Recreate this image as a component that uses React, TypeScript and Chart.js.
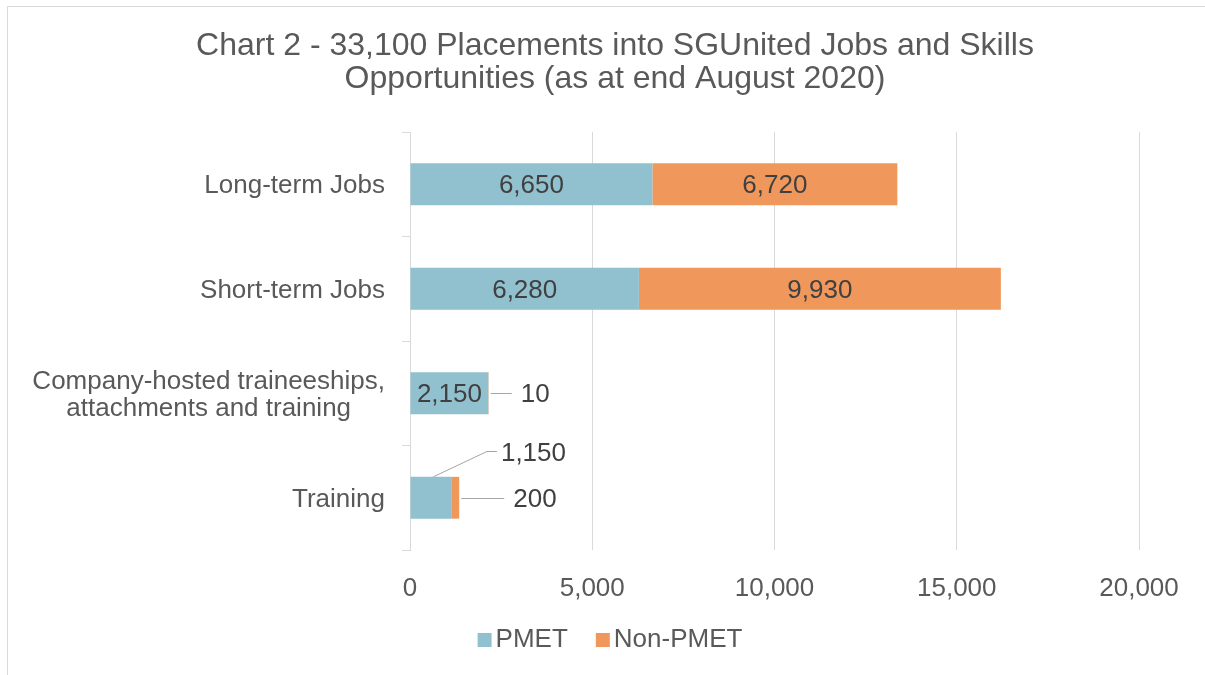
import React, { useEffect, useRef } from "react";
import { Chart, registerables } from "chart.js";

Chart.register(...registerables);

const categories: string[][] = [
  ["Long-term Jobs"],
  ["Short-term Jobs"],
  ["Company-hosted traineeships,", "attachments and training"],
  ["Training"],
];
const pmetValues = [6650, 6280, 2150, 1150];
const nonPmetValues = [6720, 9930, 10, 200];
const xTickValues = [0, 5000, 10000, 15000, 20000];
const seriesNames = ["PMET", "Non-PMET"];
const titleLines = [
  "Chart 2 - 33,100 Placements into SGUnited Jobs and Skills",
  "Opportunities (as at end August 2020)",
];

const FONT = "'Liberation Sans', Arial, sans-serif";
const TEXT_GREY = "#595959";
const LABEL_DARK = "#404040";
const GRID = "#d9d9d9";
const LEADER = "#a6a6a6";
const COLORS = ["#91c0ce", "#f0975b"];
const FS = 26;
const TY = 2; // small vertical text nudge

const fmt = (v: number) => v.toLocaleString("en-US");

const drawPlugin = {
  id: "excelLook",
  beforeDraw(chart: any) {
    const { ctx, width, height } = chart;
    ctx.save();
    ctx.fillStyle = "#ffffff";
    ctx.fillRect(0, 0, width, height);
    ctx.strokeStyle = GRID;
    ctx.lineWidth = 1;
    ctx.beginPath();
    ctx.moveTo(7.5, height);
    ctx.lineTo(7.5, 6.5);
    ctx.lineTo(width, 6.5);
    ctx.stroke();
    ctx.restore();
  },
  afterDraw(chart: any) {
    const { ctx } = chart;
    const yScale = chart.scales.y;
    ctx.save();

    // title
    ctx.font = `32px ${FONT}`;
    ctx.fillStyle = TEXT_GREY;
    ctx.textAlign = "center";
    ctx.textBaseline = "middle";
    titleLines.forEach((t, k) => ctx.fillText(t, 615, 46 + k * 33.5));

    // category labels
    ctx.font = `${FS}px ${FONT}`;
    ctx.fillStyle = TEXT_GREY;
    ctx.textBaseline = "middle";
    const labelRight = yScale.right - 8 - 17;
    const lineH = 27;
    categories.forEach((lines, i) => {
      const yc = yScale.getPixelForValue(i) + TY;
      const y0 = yc - ((lines.length - 1) * lineH) / 2;
      if (lines.length === 1) {
        ctx.textAlign = "right";
        ctx.fillText(lines[0], labelRight, y0);
      } else {
        const widest = Math.max(...lines.map((l) => ctx.measureText(l).width));
        const cx = labelRight - widest / 2;
        ctx.textAlign = "center";
        lines.forEach((l, k) => ctx.fillText(l, cx, y0 + k * lineH));
      }
    });

    // data labels
    ctx.fillStyle = LABEL_DARK;
    const pmetOutside: boolean[] = [];
    chart.data.datasets.forEach((ds: any, d: number) => {
      const meta = chart.getDatasetMeta(d);
      meta.data.forEach((el: any, i: number) => {
        const v = ds.data[i];
        const text = fmt(v);
        const tw = ctx.measureText(text).width;
        const w = el.x - el.base;
        ctx.strokeStyle = LEADER;
        ctx.lineWidth = 1;
        if (tw + 8 < w) {
          ctx.textAlign = "center";
          ctx.fillText(text, (el.x + el.base) / 2, el.y + TY);
          if (d === 0) pmetOutside[i] = false;
        } else if (d === 0) {
          pmetOutside[i] = true;
          const sx = el.base + w * 0.55;
          const sy = el.y - el.height / 2;
          const ex = el.x + 35;
          const ey = Math.round(el.y - 47) + 0.5;
          ctx.beginPath();
          ctx.moveTo(sx, sy);
          ctx.lineTo(ex, ey);
          ctx.lineTo(ex + 10, ey);
          ctx.stroke();
          ctx.textAlign = "left";
          ctx.fillText(text, ex + 14, ey + TY);
        } else {
          const len = pmetOutside[i] ? 43 : 21;
          const gap = 9;
          const ly = Math.round(el.y) + 0.5;
          ctx.beginPath();
          ctx.moveTo(el.x + 2, ly);
          ctx.lineTo(el.x + 2 + len, ly);
          ctx.stroke();
          ctx.textAlign = "left";
          ctx.fillText(text, el.x + 2 + len + gap, el.y + TY);
        }
      });
    });

    // legend
    ctx.font = `${FS}px ${FONT}`;
    ctx.textAlign = "left";
    ctx.textBaseline = "middle";
    const box = 14;
    const boxGap = 4;
    const itemGap = 28;
    const widths = chart.data.datasets.map(
      (ds: any) => box + boxGap + ctx.measureText(ds.label).width
    );
    const total =
      widths.reduce((a: number, b: number) => a + b, 0) + itemGap * (widths.length - 1);
    let x = 610 - total / 2;
    const ly = 640;
    chart.data.datasets.forEach((ds: any, d: number) => {
      ctx.fillStyle = ds.backgroundColor;
      ctx.fillRect(x, ly - box / 2, box, box);
      ctx.fillStyle = TEXT_GREY;
      ctx.fillText(ds.label, x + box + boxGap, ly);
      x += widths[d] + itemGap;
    });

    ctx.restore();
  },
};

export default function App() {
  const ref = useRef<HTMLCanvasElement | null>(null);

  useEffect(() => {
    if (!ref.current) return;
    const chart = new Chart(ref.current, {
      type: "bar",
      data: {
        labels: categories.map((c) => c.join(" ")),
        datasets: [
          {
            label: seriesNames[0],
            data: pmetValues,
            backgroundColor: COLORS[0],
            categoryPercentage: 1,
            barPercentage: 0.4,
          },
          {
            label: seriesNames[1],
            data: nonPmetValues,
            backgroundColor: COLORS[1],
            categoryPercentage: 1,
            barPercentage: 0.4,
          },
        ],
      },
      options: {
        indexAxis: "y",
        responsive: false,
        animation: false,
        layout: { padding: { top: 132, right: 66, bottom: 0, left: 0 } },
        plugins: {
          legend: { display: false },
          tooltip: { enabled: false },
          title: { display: false },
        },
        scales: {
          x: {
            stacked: true,
            min: 0,
            max: 20000,
            afterBuildTicks: (s: any) => {
              s.ticks = xTickValues.map((v) => ({ value: v }));
            },
            ticks: {
              callback: (v: any) => fmt(Number(v)),
              color: TEXT_GREY,
              font: { family: FONT, size: FS },
              padding: 23,
              maxRotation: 0,
            },
            grid: { color: GRID, drawTicks: false, tickLength: 0 },
            border: { display: false },
            afterFit: (s: any) => {
              s.height = 125;
            },
          },
          y: {
            stacked: true,
            ticks: { display: false },
            grid: {
              offset: true,
              drawOnChartArea: false,
              color: GRID,
              tickLength: 8,
            },
            border: { color: GRID },
            afterFit: (s: any) => {
              s.width = 410;
            },
          },
        },
      },
      plugins: [drawPlugin],
    } as any);
    return () => chart.destroy();
  }, []);

  return (
    <div style={{ position: "fixed", left: 0, top: 0, width: 1205, height: 675 }}>
      <canvas ref={ref} width={1205} height={675} style={{ display: "block" }} />
    </div>
  );
}
